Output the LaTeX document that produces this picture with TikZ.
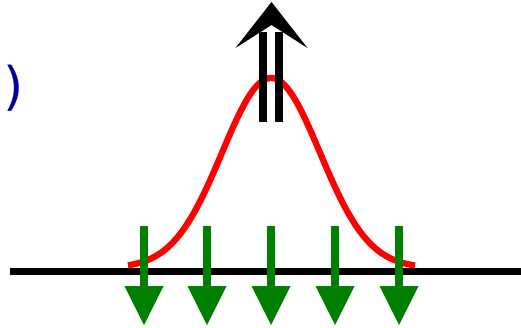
\documentclass[tikz,border=0pt]{standalone}
\usepackage{fontspec}
\setmainfont{DejaVu Sans}
\definecolor{dgreen}{RGB}{0,128,0}
\definecolor{dblue}{RGB}{0,0,160}
\tikzset{
  greenarrow/.style={fill=dgreen, draw=none},
  bar/.style={fill=black, draw=none},
}
\begin{document}
\begin{tikzpicture}[x=1pt,y=-1pt]
\useasboundingbox (0,0) rectangle (521,327);
% baseline
\coordinate (L) at (10,271.5);
\coordinate (R) at (521,271.5);
\draw[line width=7pt] (L) -- (R);
% gaussian
\draw[red, line width=6.3pt, line cap=butt, domain=128:415, samples=120, smooth]
  plot (\x, {268 - 190*exp(-0.5*((\x-271)/49)^2)});
% black double arrow
\fill[bar] (259,122) rectangle (267,32);
\fill[bar] (275,122) rectangle (283,32);
\fill (271.5,2) -- (307.5,48) -- (271.5,25) -- (235.5,48) -- cycle;
% green arrows
\foreach \i/\xx in {1/144,2/207,3/271,4/335,5/399}{
  \fill[greenarrow] (\xx-3.8,226) rectangle (\xx+3.8,287);
  \fill[greenarrow] (\xx-19.5,286) -- (\xx+19.5,286) -- (\xx,325) -- cycle;
}
% blue paren
\node[text=dblue, font=\fontsize{52}{52}\selectfont, inner sep=0pt, anchor=center] (p) at (14,88) {)};
\end{tikzpicture}
\end{document}
